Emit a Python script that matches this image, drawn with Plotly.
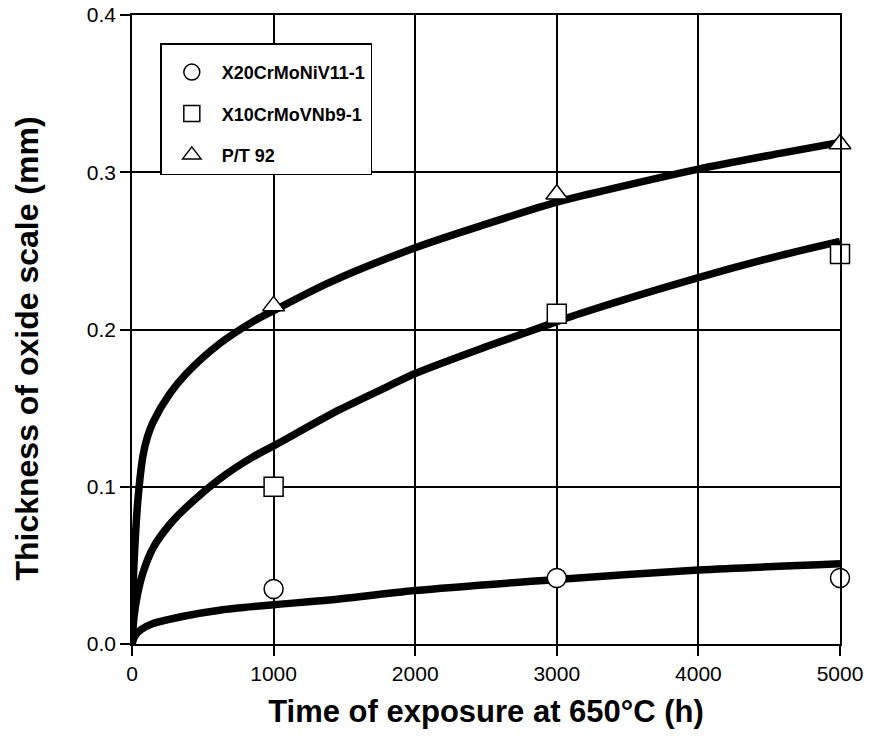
import plotly.graph_objects as go

# measured points (h, mm)
meas_time = [1000, 3000, 5000]
x20_meas = [0.035, 0.042, 0.042]
x10_meas = [0.100, 0.210, 0.248]
p92_meas = [0.215, 0.286, 0.318]

# fitted curves
p92_t = [0, 5, 19, 42, 78, 110, 148, 266, 384, 619, 854, 1000, 1396, 2000, 2500, 3000, 3224, 4000, 4576, 5000]
p92_y = [0, 0.03, 0.06, 0.092, 0.120, 0.132, 0.141, 0.159, 0.172, 0.191, 0.205, 0.212, 0.230, 0.252, 0.267, 0.281, 0.286, 0.302, 0.312, 0.319]

x10_t = [0, 15, 40, 80, 148, 266, 384, 619, 854, 1000, 1466, 1812, 2000, 2500, 3000, 3160, 4000, 4576, 5000]
x10_y = [0, 0.018, 0.032, 0.046, 0.061, 0.076, 0.087, 0.105, 0.119, 0.126, 0.149, 0.164, 0.172, 0.189, 0.205, 0.210, 0.233, 0.247, 0.256]

x20_t = [0, 20, 62, 148, 384, 619, 1000, 1395, 2000, 3000, 4000, 5000]
x20_y = [0, 0.005, 0.009, 0.013, 0.018, 0.0215, 0.025, 0.028, 0.034, 0.041, 0.047, 0.051]

names = ['X20CrMoNiV11-1', 'X10CrMoVNb9-1', 'P/T 92']
symbols = ['circle', 'square', 'triangle-up']

FONT = 'Liberation Sans, Arial, sans-serif'

fig = go.Figure()

for t, y in [(p92_t, p92_y), (x10_t, x10_y), (x20_t, x20_y)]:
    fig.add_trace(go.Scatter(x=t, y=y, mode='lines',
                             line=dict(color='black', width=7.5, shape='spline', smoothing=0.8),
                             showlegend=False, hoverinfo='skip'))

for i, vals in enumerate([x20_meas, x10_meas, p92_meas]):
    fig.add_trace(go.Scatter(
        x=meas_time, y=vals, mode='markers', name=names[i], legendgroup=names[i],
        marker=dict(symbol=symbols[i], size=19, color='white',
                    line=dict(color='black', width=1.5)),
        cliponaxis=False))

axis_common = dict(showline=True, linecolor='black', linewidth=1.5, mirror=True,
                   showgrid=True, gridcolor='black', gridwidth=1.5,
                   ticks='outside', ticklen=10, tickcolor='black', tickwidth=1.5,
                   zeroline=False, automargin=False,
                   tickfont=dict(family=FONT, size=21, color='black'))

fig.update_xaxes(range=[0, 5000], dtick=1000, **axis_common,
                 title=dict(text='<b>Time of exposure at 650°C (h)</b>', standoff=16,
                            font=dict(family=FONT, size=31, color='black')))
fig.update_yaxes(range=[0, 0.4], dtick=0.1, tickformat='.1f', **axis_common)

# y title as a rotated annotation so it can sit a bit below the centre, as in the original
fig.add_annotation(text='<b>Thickness of oxide scale (mm)</b>', textangle=-90,
                   xref='paper', yref='paper', x=-0.148, y=0.47,
                   xanchor='center', yanchor='middle', showarrow=False,
                   font=dict(family=FONT, size=32, color='black'))

fig.update_layout(
    width=873, height=749,
    margin=dict(l=132, r=33, t=15, b=105),
    plot_bgcolor='white', paper_bgcolor='white',
    legend=dict(x=0.04, y=0.955, xanchor='left', yanchor='top',
                bgcolor='white', bordercolor='black', borderwidth=1.5,
                traceorder='grouped', tracegroupgap=15, itemwidth=50,
                title=dict(text=' ', font=dict(size=7)),
                font=dict(family=FONT, size=18, color='black', weight='bold')),
)

fig.write_html('out.html', config={'displayModeBar': False},
               post_script="document.body.style.margin='0px';")
